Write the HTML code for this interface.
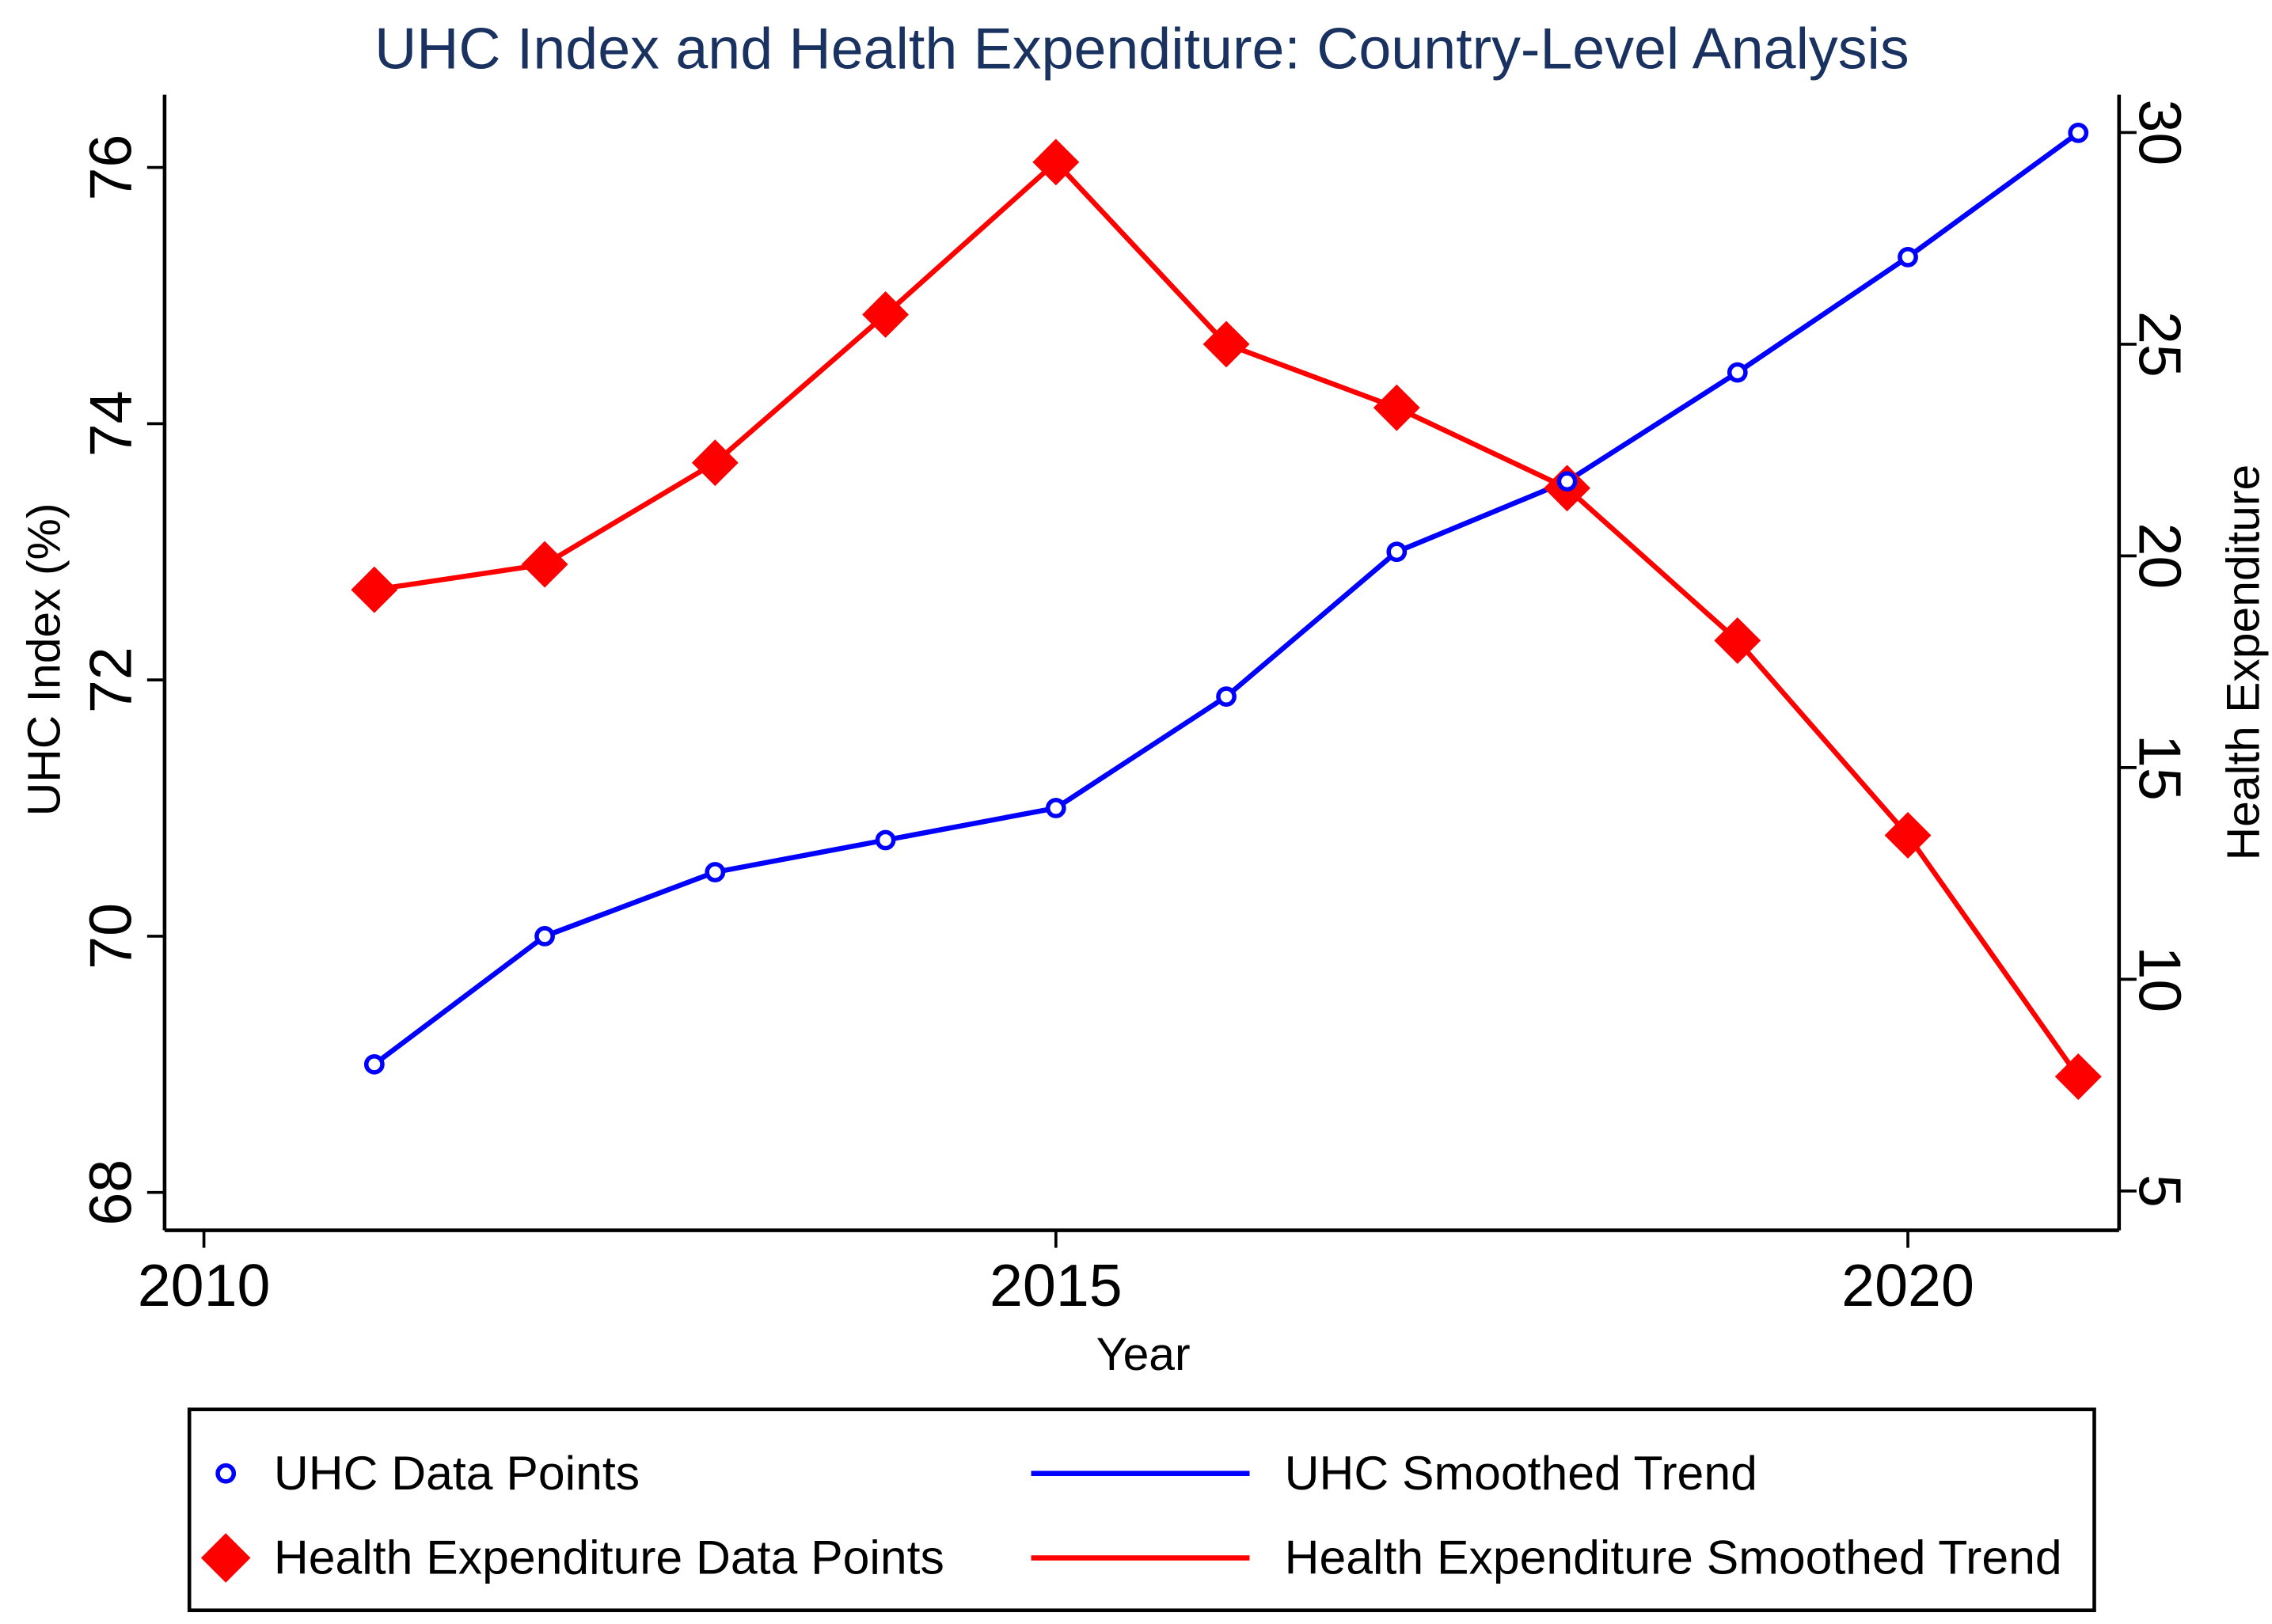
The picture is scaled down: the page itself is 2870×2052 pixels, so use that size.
<!DOCTYPE html>
<html><head><meta charset="utf-8"><style>
html,body{margin:0;padding:0;background:#fff;}
svg{display:block;font-family:"Liberation Sans",Arial,sans-serif;}
</style></head><body>
<svg id="chart" width="2870" height="2052" viewBox="0 0 1560 1115.4" xmlns="http://www.w3.org/2000/svg">
<rect x="0" y="0" width="1560" height="1115.4" fill="#fff"/>
<text x="784" y="47" text-anchor="middle" font-size="40" fill="#1a3260">UHC Index and Health Expenditure: Country-Level Analysis</text>
<g id="axes"></g>
<g id="marks"></g>
<g id="legend">
<rect x="130" y="968" width="1308" height="138" fill="none" stroke="#000" stroke-width="2.5"/>
<circle cx="155" cy="1012" r="5.5" fill="none" stroke="#0000ff" stroke-width="3"/>
<text x="188" y="1023" font-size="33">UHC Data Points</text>
<line x1="708" y1="1012" x2="858" y2="1012" stroke="#0000ff" stroke-width="3.5"/>
<text x="882" y="1023" font-size="33">UHC Smoothed Trend</text>
<polygon points="155,1053 172,1070 155,1087 138,1070" fill="#ff0000"/>
<text x="188" y="1081" font-size="33">Health Expenditure Data Points</text>
<line x1="708" y1="1070" x2="858" y2="1070" stroke="#ff0000" stroke-width="3.5"/>
<text x="882" y="1081" font-size="33">Health Expenditure Smoothed Trend</text>
</g>
</svg>
<script>
const years = [2011,2012,2013,2014,2015,2016,2017,2018,2019,2020,2021];
const uhcValues = [69.0,70.0,70.5,70.75,71.0,71.87,73.0,73.55,74.4,75.3,76.27];
const healthExpValues = [19.2,19.8,22.2,25.7,29.3,25.0,23.5,21.6,18.0,13.4,7.7];
const xTicks = [2010,2015,2020];
const leftTicks = [68,70,72,74,76];
const rightTicks = [5,10,15,20,25,30];

const NS = "http://www.w3.org/2000/svg";
const L=113, R=1455, T=65, B=845;
function xs(v){return 140 + (v-2010)*117;}
function yl(v){return 819 - (v-68)*88;}
function yr(v){return 818 - (v-5)*29.08;}
function mk(tag, attrs, parent, text){
  const e=document.createElementNS(NS,tag);
  for(const k in attrs) e.setAttribute(k, attrs[k]);
  if(text!==undefined) e.textContent=text;
  parent.appendChild(e); return e;
}
const axes=document.getElementById('axes');
const marks=document.getElementById('marks');

let e;
e=mk('line',{x1:L,y1:T,x2:L,y2:B,stroke:'#000','stroke-width':2.5},axes);


e=mk('line',{x1:R,y1:T,x2:R,y2:B,stroke:'#000','stroke-width':2.5},axes);


e=mk('line',{x1:L,y1:B,x2:R,y2:B,stroke:'#000','stroke-width':2.5},axes);



xTicks.forEach(t=>{
  e=mk('line',{x1:xs(t),y1:B,x2:xs(t),y2:B+12,stroke:'#000','stroke-width':2},axes);
  
  
  e=mk('text',{x:xs(t),y:B+52,'text-anchor':'middle','font-size':41},axes,String(t));
  
  
});
leftTicks.forEach(t=>{
  e=mk('line',{x1:L-12,y1:yl(t),x2:L,y2:yl(t),stroke:'#000','stroke-width':2},axes);
  
  
  e=mk('text',{x:0,y:0,'text-anchor':'middle','font-size':41,transform:`translate(90,${yl(t)}) rotate(-90)`},axes,String(t));
  
  
});
rightTicks.forEach(t=>{
  e=mk('line',{x1:R,y1:yr(t),x2:R+12,y2:yr(t),stroke:'#000','stroke-width':2},axes);
  
  
  e=mk('text',{x:0,y:0,'text-anchor':'middle','font-size':41,transform:`translate(1469,${yr(t)}) rotate(90)`},axes,String(t));
  
  
});
e=mk('text',{x:0,y:0,'text-anchor':'middle','font-size':32,transform:'translate(41,453) rotate(-90)'},axes,'UHC Index (%)');


e=mk('text',{x:0,y:0,'text-anchor':'middle','font-size':32,transform:'translate(1551,455) rotate(-90)'},axes,'Health Expenditure');


e=mk('text',{x:785,y:941,'text-anchor':'middle','font-size':32},axes,'Year');



e=mk('polyline',{points:years.map((y,i)=>xs(y)+','+yl(uhcValues[i])).join(' '),fill:'none',stroke:'#0000ff','stroke-width':3.5,'stroke-linejoin':'round'},marks);


e=mk('polyline',{points:years.map((y,i)=>xs(y)+','+yr(healthExpValues[i])).join(' '),fill:'none',stroke:'#ff0000','stroke-width':3.5,'stroke-linejoin':'round'},marks);


years.forEach((y,i)=>{
  const cx=xs(y), cy=yr(healthExpValues[i]);
  e=mk('polygon',{points:`${cx},${cy-16} ${cx+16},${cy} ${cx},${cy+16} ${cx-16},${cy}`,fill:'#ff0000'},marks);
  
  
});
years.forEach((y,i)=>{
  e=mk('circle',{cx:xs(y),cy:yl(uhcValues[i]),r:5.5,fill:'#fff',stroke:'#0000ff','stroke-width':3},marks);
  
  
});
</script>
</body></html>
